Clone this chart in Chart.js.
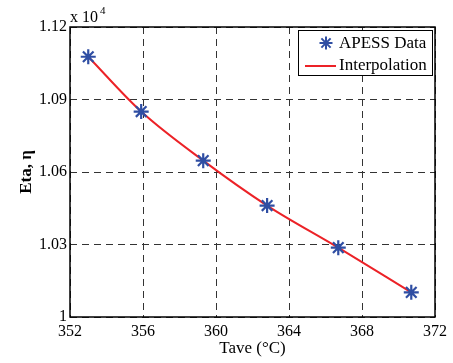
<!DOCTYPE html>
<html><head><meta charset="utf-8">
<script src="https://cdn.jsdelivr.net/npm/chart.js@4"></script>
<style>html,body{margin:0;padding:0;background:#fff}#wrap{width:453px;height:363px}</style>
</head><body><div id="wrap"><canvas id="c"></canvas></div>
<script>
const tave = [353.0, 355.9, 359.3, 362.8, 366.7, 370.7];
const eta = [11077, 10850, 10647, 10461, 10287, 10102];
const xTicks = [352, 356, 360, 364, 368, 372];
const yTicks = [10000, 10300, 10600, 10900, 11200];
const seriesNames = ['APESS Data', 'Interpolation'];

const FONT = "'Liberation Serif','Times New Roman',serif";
const pts = tave.map((x, i) => ({x, y: eta[i]}));

const overlay = {
  id: 'overlay',
  afterDraw(chart) {
    const ctx = chart.ctx, a = chart.chartArea;
    ctx.save();
    ctx.strokeStyle = '#000'; ctx.lineWidth = 1.5; ctx.setLineDash([]);
    ctx.strokeRect(a.left, a.top, a.right - a.left, a.bottom - a.top);
    ctx.fillStyle = '#000';
    ctx.font = '16px ' + FONT; ctx.textBaseline = 'alphabetic'; ctx.textAlign = 'left';
    ctx.fillText('x 10', a.left, a.top - 5);
    ctx.font = '11px ' + FONT;
    ctx.fillText('4', a.left + 30, a.top - 13);
    const lx = 298, ly = 30, lw = 134, lh = 45;
    ctx.fillStyle = '#fff'; ctx.fillRect(lx, ly, lw, lh);
    ctx.strokeStyle = '#000'; ctx.lineWidth = 1; ctx.strokeRect(lx + 0.5, ly + 0.5, lw, lh);
    ctx.font = '17px ' + FONT; ctx.fillStyle = '#000'; ctx.textAlign = 'left'; ctx.textBaseline = 'middle';
    ctx.fillText(seriesNames[0], 339, 44);
    ctx.fillText(seriesNames[1], 339, 66);
    const cx = 326, cy = 43, r = 6.5;
    ctx.strokeStyle = '#2f4ea3'; ctx.lineWidth = 2;
    ctx.beginPath();
    for (let k = 0; k < 4; k++) {
      const ang = k * Math.PI / 4;
      ctx.moveTo(cx - r * Math.cos(ang), cy - r * Math.sin(ang));
      ctx.lineTo(cx + r * Math.cos(ang), cy + r * Math.sin(ang));
    }
    ctx.stroke();
    ctx.strokeStyle = '#ec2227'; ctx.lineWidth = 2;
    ctx.beginPath(); ctx.moveTo(305, 66); ctx.lineTo(336, 66); ctx.stroke();
    ctx.restore();
  }
};

new Chart(document.getElementById('c'), {
  type: 'scatter',
  data: {
    datasets: [
      {
        label: seriesNames[0], data: pts, showLine: false,
        pointStyle: 'star', pointRadius: 7.5, borderColor: '#2f4ea3', backgroundColor: '#2f4ea3',
        pointBorderWidth: 2.2, order: 0
      },
      {
        label: seriesNames[1], data: pts, showLine: true,
        borderColor: '#ec2227', borderWidth: 2, pointRadius: 0, fill: false,
        cubicInterpolationMode: 'monotone', order: 1
      }
    ]
  },
  options: {
    responsive: true, maintainAspectRatio: false, animation: false,
    layout: {padding: {top: 27, right: 18, left: 16, bottom: 4}},
    plugins: {legend: {display: false}, tooltip: {enabled: false}},
    scales: {
      x: {
        type: 'linear', min: 352, max: 372,
        afterBuildTicks: s => { s.ticks = xTicks.map(v => ({value: v})); },
        afterFit: s => { s.height = 42; },
        grid: {color: '#333', lineWidth: 1, drawTicks: false, tickLength: 0},
        border: {display: false, dash: [7, 5]},
        ticks: {color: '#000', font: {family: FONT, size: 16}, padding: 5, maxRotation: 0},
        title: {display: true, text: 'Tave (°C)', color: '#000', font: {family: FONT, size: 17}, padding: {top: 0, bottom: 0}}
      },
      y: {
        type: 'linear', min: 10000, max: 11200,
        afterBuildTicks: s => { s.ticks = yTicks.map(v => ({value: v})); },
        afterFit: s => { s.width = 54; },
        grid: {color: '#333', lineWidth: 1, drawTicks: false, tickLength: 0},
        border: {display: false, dash: [7, 5]},
        ticks: {color: '#000', font: {family: FONT, size: 16}, padding: 3,
          callback: v => { const t = v / 10000; return t === 1 ? '1' : t.toFixed(2); }},
        title: {display: true, text: 'Eta, η', color: '#000', font: {family: FONT, size: 17, weight: 'bold'}, padding: {top: 0, bottom: 0}}
      }
    }
  },
  plugins: [overlay]
});
</script>
</body></html>
